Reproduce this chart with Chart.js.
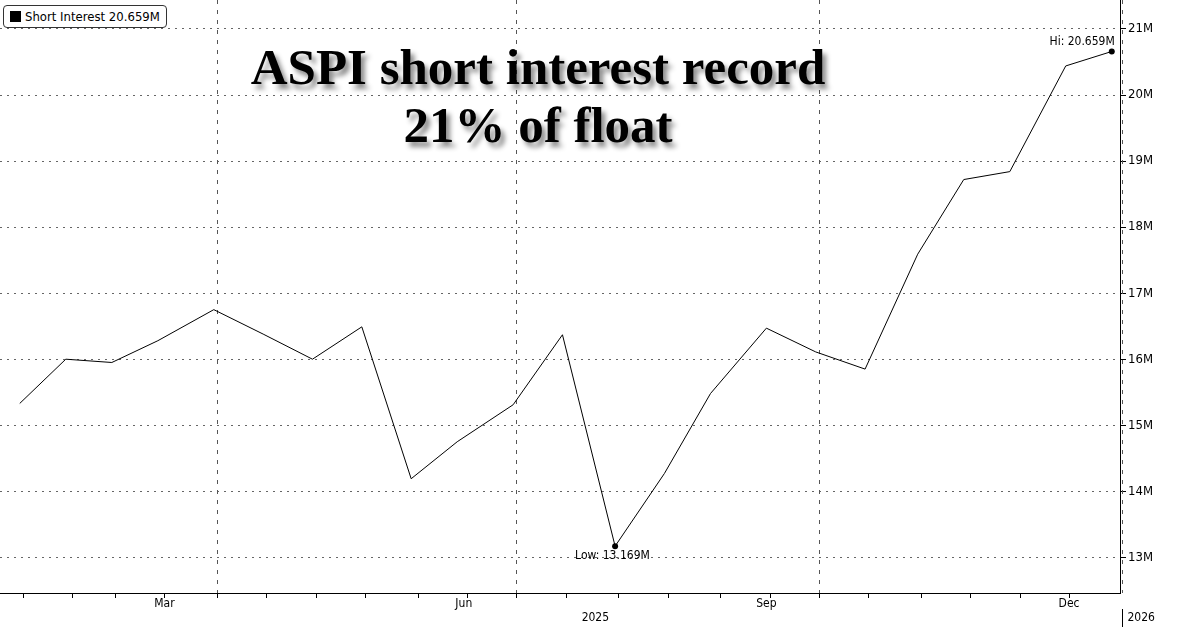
<!DOCTYPE html>
<html>
<head>
<meta charset="utf-8">
<script src="https://cdn.jsdelivr.net/npm/chart.js@4.4.1/dist/chart.umd.min.js"></script>
<style>
  body { margin: 0; background: #fff; }
  #wrap { position: relative; width: 1200px; height: 627px; }
  #legend { position: absolute; left: 3px; top: 5px; border: 1px solid #333; border-radius: 4px;
    background: #fff; padding: 3px 6px; font: 13px "DejaVu Sans Condensed", "DejaVu Sans", sans-serif; }
  #legend span { display: inline-block; width: 11px; height: 11px; background: #000; margin-right: 4px; vertical-align: -1px; }
  #title { position: absolute; left: 183px; top: 38px; width: 710px; text-align: center;
    font: bold 51px "Liberation Serif", serif; line-height: 58px; color: #000;
    text-shadow: 4px 5px 5px rgba(0,0,0,0.45); }
</style>
</head>
<body>
<div id="wrap">
  <canvas id="c" width="1200" height="627"></canvas>
  <div id="legend"><span></span>Short Interest 20.659M</div>
  <div id="title">ASPI short interest record<br>21% of float</div>
</div>
<script>
const dates = ['2025-01-31','2025-02-14','2025-02-28','2025-03-14','2025-03-31','2025-04-15','2025-04-30',
  '2025-05-15','2025-05-30','2025-06-13','2025-06-30','2025-07-15','2025-07-31','2025-08-15','2025-08-29',
  '2025-09-15','2025-09-30','2025-10-15','2025-10-31','2025-11-14','2025-11-28','2025-12-15','2025-12-29'];
const shortInterest = [15.33, 16.0, 15.95, 16.28, 16.75, 16.38, 16.0, 16.49, 14.19, 14.75, 15.31, 16.37,
  13.169, 14.27, 15.48, 16.47, 16.11, 15.85, 17.59, 18.72, 18.84, 20.44, 20.659];
const monthLabels = ['Mar', 'Jun', 'Sep', 'Dec'];
const monthMid = ['2025-03-16', '2025-06-15', '2025-09-15', '2025-12-16'];
const quarterLines = ['2025-04-01', '2025-07-01', '2025-10-01', '2026-01-01'];

const day = s => (Date.parse(s) - Date.parse('2025-01-01')) / 86400000;
const points = dates.map((d, i) => ({ x: day(d), y: shortInterest[i] }));

const font = '12px "DejaVu Sans Condensed", "DejaVu Sans", sans-serif';

const axisPlugin = {
  id: 'axisPlugin',
  beforeDatasetsDraw(chart) {
    const { ctx, chartArea: a, scales: { x } } = chart;
    ctx.save();
    ctx.strokeStyle = '#555';
    ctx.lineWidth = 1;
    ctx.setLineDash([4, 6]);
    quarterLines.forEach(q => {
      const px = Math.round(x.getPixelForValue(day(q))) + 0.5;
      ctx.beginPath(); ctx.moveTo(px, 0); ctx.lineTo(px, a.bottom); ctx.stroke();
    });
    ctx.setLineDash([]);
    ctx.strokeStyle = '#000';
    ctx.beginPath(); ctx.moveTo(a.left, a.bottom + 0.5); ctx.lineTo(a.right, a.bottom + 0.5); ctx.stroke();
    // solid right axis line
    ctx.beginPath(); ctx.moveTo(Math.round(a.right) + 0.5, 0); ctx.lineTo(Math.round(a.right) + 0.5, a.bottom + 1); ctx.stroke();
    // semi-monthly tick marks
    ctx.beginPath();
    for (let m = 1; m <= 12; m++) {
      [1, 16].forEach(dd => {
        const px = Math.round(x.getPixelForValue(day(`2025-${String(m).padStart(2,'0')}-${String(dd).padStart(2,'0')}`))) + 0.5;
        if (px >= a.left && px <= a.right) { ctx.moveTo(px, a.bottom); ctx.lineTo(px, a.bottom + 5); }
      });
    }
    ctx.stroke();
    ctx.font = font; ctx.fillStyle = '#000'; ctx.textAlign = 'center'; ctx.textBaseline = 'top';
    monthLabels.forEach((m, i) => ctx.fillText(m, x.getPixelForValue(day(monthMid[i])), a.bottom + 5));
    ctx.fillText('2025', x.getPixelForValue(day('2025-07-25')), a.bottom + 19);
    const yp = Math.round(x.getPixelForValue(day('2026-01-01'))) + 0.5;
    ctx.beginPath(); ctx.moveTo(yp, a.bottom + 16); ctx.lineTo(yp, a.bottom + 34); ctx.stroke();
    ctx.textAlign = 'left';
    ctx.fillText('2026', yp + 5, a.bottom + 19);
    ctx.restore();
  },
  afterDatasetsDraw(chart) {
    const { ctx, scales: { x, y } } = chart;
    const hiI = shortInterest.indexOf(Math.max(...shortInterest));
    const loI = shortInterest.indexOf(Math.min(...shortInterest));
    ctx.save();
    ctx.font = font; ctx.fillStyle = '#000';
    [[hiI, 'Hi: ' + shortInterest[hiI].toFixed(3) + 'M', -1], [loI, 'Low: ' + shortInterest[loI].toFixed(3) + 'M', 1]].forEach(([i, t, dir]) => {
      const px = x.getPixelForValue(points[i].x), py = y.getPixelForValue(points[i].y);
      ctx.beginPath(); ctx.arc(px, py, 3, 0, Math.PI * 2); ctx.fill();
      ctx.textAlign = dir < 0 ? 'right' : 'left';
      ctx.textBaseline = dir < 0 ? 'bottom' : 'top';
      ctx.fillText(t, dir < 0 ? px + 3 : px - 40, py + dir * 4);
    });
    ctx.restore();
  }
};

new Chart(document.getElementById('c'), {
  type: 'line',
  data: { datasets: [{ data: points, borderColor: '#000', borderWidth: 1, pointRadius: 0, tension: 0 }] },
  options: {
    responsive: false,
    animation: false,
    layout: { padding: { bottom: 34, left: 0, top: 0 } },
    plugins: { legend: { display: false }, tooltip: { enabled: false } },
    scales: {
      x: { type: 'linear', display: false, min: day('2025-01-25'), max: day('2026-01-01') - 0.5 },
      y: {
        position: 'right', min: 12.46, max: 21.29,
        afterFit: s => { s.width = 80; },
        afterBuildTicks: s => { s.ticks = [13,14,15,16,17,18,19,20,21].map(v => ({ value: v })); },
        border: { display: false, dash: [2, 5] },
        grid: { color: '#666', tickLength: 6, tickColor: '#000' },
        ticks: { color: '#000', font: { family: '"DejaVu Sans Condensed", "DejaVu Sans", sans-serif', size: 13 },
          callback: v => v + 'M', padding: 2 }
      }
    }
  },
  plugins: [axisPlugin]
});
</script>
</body>
</html>
